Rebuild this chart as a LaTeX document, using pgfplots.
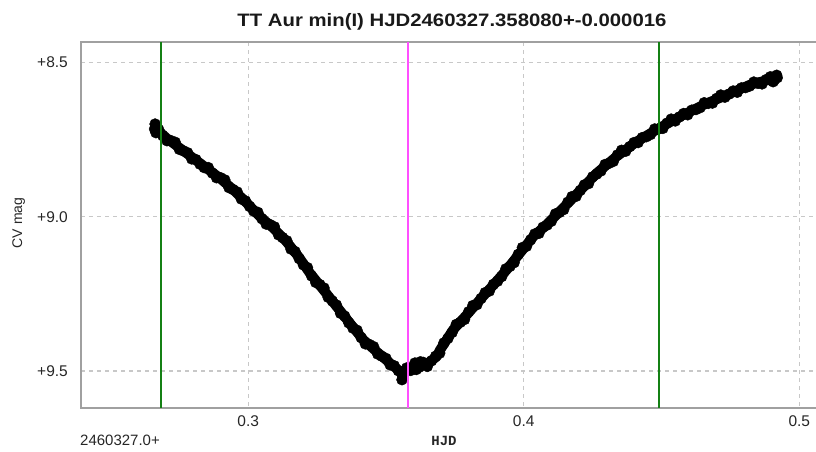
\documentclass[border=0pt]{standalone}
\usepackage{pgfplots}
\pgfplotsset{compat=1.18}
\usepackage{pgfplotstable}
\usepackage{fontspec}
\setmainfont{Liberation Sans}
\newfontfamily\monofont{Liberation Mono}
\usepackage{graphicx}
\definecolor{gridgray}{RGB}{200,200,200}
\definecolor{framegray}{RGB}{160,160,160}
\definecolor{vgreen}{RGB}{20,128,20}
\definecolor{vmag}{RGB}{255,80,255}

\pgfplotstableread{
t m
0.2662 8.713
0.2704 8.746
0.2752 8.778
0.2801 8.811
0.2849 8.843
0.2897 8.875
0.2946 8.913
0.2994 8.955
0.3043 9.000
0.3091 9.037
0.3139 9.081
0.3182 9.129
0.3224 9.183
0.3273 9.237
0.3321 9.291
0.3369 9.345
0.3418 9.399
0.3466 9.437
0.3514 9.474
0.3557 9.506
0.3599 9.487
0.3648 9.478
0.3684 9.453
0.3696 9.432
0.3744 9.366
0.3793 9.318
0.3841 9.269
0.3890 9.221
0.3938 9.172
0.3986 9.118
0.4035 9.064
0.4083 9.026
0.4131 8.983
0.4192 8.927
0.4265 8.859
0.4337 8.805
0.4410 8.757
0.4492 8.713
0.4567 8.676
0.4652 8.638
0.4736 8.606
0.4821 8.573
0.4907 8.552
0.4920 8.550
}\curve

\pgfplotstableread{
t m
0.2660 8.716
0.2662 8.700
0.2665 8.728
0.2675 8.718
0.2690 8.738
0.2705 8.754
0.2720 8.754
0.2735 8.759
0.2750 8.782
0.2765 8.787
0.2780 8.793
0.2795 8.813
0.2810 8.815
0.2825 8.830
0.2840 8.841
0.2855 8.841
0.2870 8.859
0.2885 8.874
0.2900 8.874
0.2915 8.881
0.2930 8.906
0.2945 8.912
0.2960 8.920
0.2975 8.943
0.2990 8.949
0.3005 8.967
0.3020 8.982
0.3035 8.986
0.3050 9.007
0.3065 9.024
0.3080 9.026
0.3095 9.033
0.3110 9.059
0.3125 9.068
0.3140 9.078
0.3155 9.105
0.3170 9.113
0.3185 9.136
0.3200 9.156
0.3215 9.165
0.3230 9.192
0.3245 9.213
0.3260 9.220
0.3275 9.231
0.3290 9.261
0.3305 9.273
0.3320 9.286
0.3335 9.313
0.3350 9.322
0.3365 9.344
0.3380 9.361
0.3395 9.368
0.3410 9.392
0.3425 9.412
0.3440 9.414
0.3455 9.421
0.3470 9.445
0.3485 9.452
0.3500 9.459
0.3515 9.480
0.3530 9.483
0.3545 9.499
0.3558 9.528
0.3560 9.516
0.3568 9.505
0.3575 9.490
0.3590 9.498
0.3605 9.474
0.3610 9.495
0.3620 9.488
0.3625 9.470
0.3635 9.472
0.3650 9.485
0.3665 9.467
0.3680 9.452
0.3695 9.442
0.3710 9.409
0.3725 9.394
0.3740 9.375
0.3755 9.349
0.3770 9.342
0.3785 9.333
0.3800 9.308
0.3815 9.288
0.3830 9.285
0.3845 9.265
0.3860 9.246
0.3875 9.241
0.3890 9.219
0.3905 9.209
0.3920 9.194
0.3935 9.169
0.3950 9.161
0.3965 9.149
0.3980 9.122
0.3995 9.100
0.4010 9.096
0.4025 9.075
0.4040 9.056
0.4055 9.054
0.4070 9.034
0.4085 9.027
0.4100 9.015
0.4115 8.991
0.4130 8.986
0.4145 8.977
0.4160 8.953
0.4175 8.935
0.4190 8.934
0.4205 8.915
0.4220 8.897
0.4235 8.893
0.4250 8.871
0.4265 8.862
0.4280 8.852
0.4295 8.831
0.4310 8.827
0.4325 8.821
0.4340 8.800
0.4355 8.785
0.4370 8.788
0.4385 8.773
0.4400 8.760
0.4415 8.760
0.4430 8.744
0.4445 8.741
0.4460 8.734
0.4475 8.716
0.4490 8.716
0.4505 8.714
0.4520 8.697
0.4535 8.684
0.4550 8.690
0.4565 8.677
0.4580 8.666
0.4595 8.670
0.4610 8.655
0.4625 8.653
0.4640 8.647
0.4655 8.631
0.4670 8.633
0.4685 8.632
0.4700 8.617
0.4715 8.606
0.4730 8.613
0.4745 8.603
0.4760 8.593
0.4775 8.597
0.4790 8.583
0.4805 8.582
0.4820 8.577
0.4835 8.564
0.4850 8.568
0.4865 8.570
0.4880 8.556
0.4895 8.547
0.4905 8.563
0.4910 8.557
0.4918 8.542
0.4920 8.550
}\points

\begin{document}
\begin{tikzpicture}[x=1pt,y=1pt]
\useasboundingbox (0,0) rectangle (816,451);
\begin{axis}[
  at={(81pt,43pt)}, anchor=south west,
  scale only axis, width=737pt, height=366pt,
  clip mode=individual,
  xmin=0.2393, xmax=0.5068,
  ymin=8.4343, ymax=9.6197, y dir=reverse,
  xtick={0.3,0.4,0.5}, xticklabels={0.3,0.4,0.5},
  ytick={8.5,9,9.5}, yticklabels={+8.5,+9.0,+9.5},
  major tick length=0pt,
  grid=major,
  major grid style={gridgray, line width=1.2pt, dash pattern=on 4pt off 4pt},
  axis line style={framegray, line width=1.6pt},
  tick label style={font=\fontsize{15.5}{18}\selectfont, text=black!85},
  xticklabel style={anchor=north, inner sep=0pt, yshift=-7pt},
  yticklabel style={anchor=east, inner sep=0pt, xshift=-13pt},
  ylabel={\fontsize{14}{16}\selectfont CV mag},
  ylabel style={at={(axis description cs:-0.0845,0.5055)}, anchor=center, text=black!85},
]
\addplot[black, line width=10pt, line cap=round, line join=round] table[x=t,y=m] {\curve};
\addplot[only marks, mark=*, mark size=5.5pt, black] table[x=t,y=m] {\points};
\addplot[vgreen, line width=2pt] coordinates {(0.2685,8.4343) (0.2685,9.6197)};
\addplot[vgreen, line width=2pt] coordinates {(0.4491,8.4343) (0.4491,9.6197)};
\addplot[vmag, line width=2pt] coordinates {(0.35808,8.4343) (0.35808,9.6197)};
\node[anchor=base, font=\fontsize{18}{21}\selectfont\bfseries, text=black!90] at (axis description cs:0.5034,1.0437) {\scalebox{1.13}[1]{TT Aur min(I) HJD2460327.358080+-0.000016}};
\node[anchor=west, inner sep=0pt, font=\fontsize{15}{18}\selectfont, text=black!85] at (axis description cs:-0.0014,-0.0874) {2460327.0+};
\node[anchor=center, inner sep=0pt, font=\fontsize{14}{16}\monofont\bfseries, text=black!85] at (axis description cs:0.4925,-0.0902) {HJD};
\end{axis}
\end{tikzpicture}
\end{document}
